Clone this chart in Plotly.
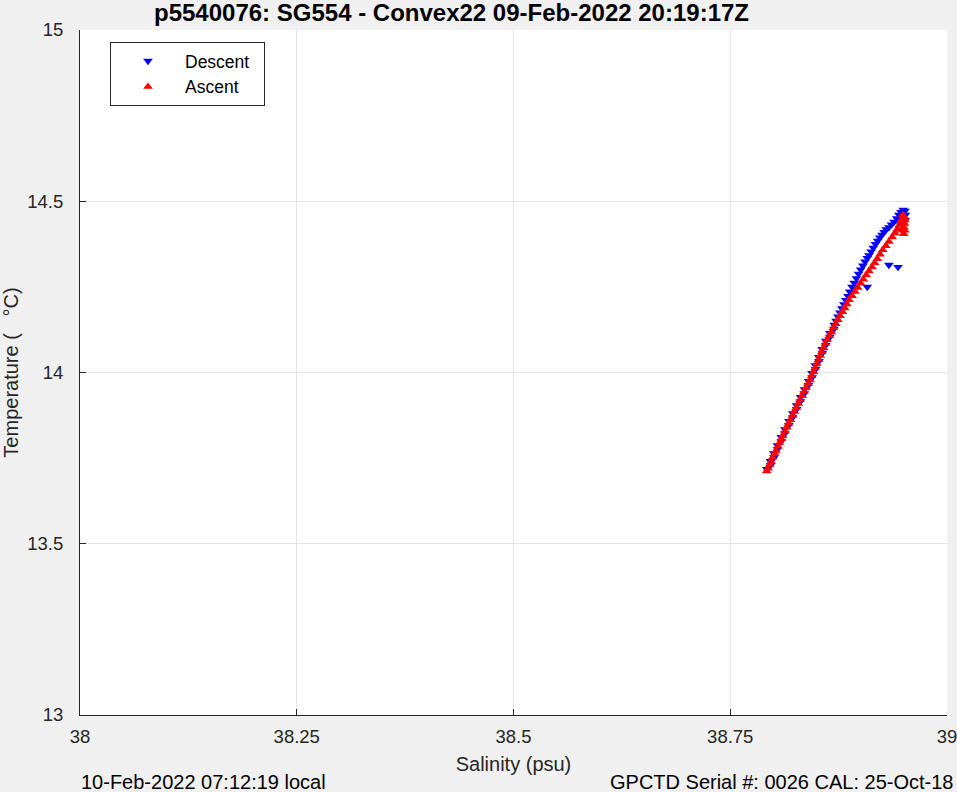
import plotly.graph_objects as go

# ---- data ----
desc_sal = [38.7921, 38.7964, 38.7964, 38.8005, 38.8003, 38.8046, 38.8045, 38.8089, 38.8089, 38.8131,
            38.8131, 38.8176, 38.8177, 38.8220, 38.8221, 38.8266, 38.8265, 38.8310, 38.8311, 38.8354,
            38.8356, 38.8402, 38.8404, 38.8445, 38.8443, 38.8485, 38.8481, 38.8523, 38.8521, 38.8563,
            38.8560, 38.8602, 38.8603, 38.8649, 38.8649, 38.8696, 38.8700, 38.8721, 38.8743, 38.8765,
            38.8788, 38.8811, 38.8834, 38.8858, 38.8878, 38.8905, 38.8930, 38.8955, 38.8980, 38.9005,
            38.9030, 38.9055, 38.9080, 38.9100, 38.9125, 38.9150, 38.9175, 38.9200, 38.9225, 38.9250,
            38.9275, 38.9300, 38.9330, 38.9360, 38.9390, 38.9420, 38.9445, 38.9470, 38.9495, 38.9515,
            38.9520, 38.9330, 38.9435, 38.9080, 38.9518]
desc_temp = [13.718, 13.729, 13.741, 13.752, 13.764, 13.776, 13.787, 13.799, 13.811, 13.822,
             13.834, 13.846, 13.858, 13.869, 13.881, 13.893, 13.904, 13.916, 13.928, 13.939,
             13.951, 13.963, 13.975, 13.986, 13.998, 14.010, 14.021, 14.033, 14.045, 14.057,
             14.068, 14.080, 14.092, 14.104, 14.115, 14.127, 14.139, 14.151, 14.163, 14.175,
             14.187, 14.199, 14.211, 14.223, 14.236, 14.250, 14.262, 14.275, 14.288, 14.300,
             14.312, 14.324, 14.334, 14.342, 14.353, 14.364, 14.375, 14.384, 14.394, 14.402,
             14.410, 14.418, 14.424, 14.432, 14.440, 14.450, 14.460, 14.468, 14.475, 14.472,
             14.460, 14.314, 14.308, 14.250, 14.445]

asc_sal = [38.7920, 38.7935, 38.7955, 38.7972, 38.7990, 38.8012, 38.8025, 38.8050, 38.8070, 38.8090,
           38.8105, 38.8130, 38.8152, 38.8172, 38.8195, 38.8218, 38.8240, 38.8262, 38.8285, 38.8305,
           38.8330, 38.8352, 38.8374, 38.8398, 38.8420, 38.8440, 38.8460, 38.8478, 38.8498, 38.8518,
           38.8538, 38.8557, 38.8577, 38.8597, 38.8616, 38.8642, 38.8665, 38.8690, 38.8718, 38.8742,
           38.8768, 38.8795, 38.8820, 38.8845, 38.8870, 38.8905, 38.8938, 38.8970, 38.9003, 38.9035,
           38.9068, 38.9100, 38.9135, 38.9165, 38.9195, 38.9228, 38.9260, 38.9295, 38.9330, 38.9368,
           38.9400, 38.9425, 38.9450, 38.9468, 38.9480, 38.9500, 38.9510, 38.9515, 38.9505, 38.9490,
           38.9515, 38.9500, 38.9485]
asc_temp = [13.712, 13.720, 13.731, 13.740, 13.752, 13.763, 13.771, 13.784, 13.795, 13.806,
            13.815, 13.828, 13.840, 13.851, 13.862, 13.874, 13.886, 13.897, 13.909, 13.920,
            13.932, 13.944, 13.955, 13.967, 13.978, 13.990, 14.002, 14.013, 14.025, 14.037,
            14.049, 14.060, 14.072, 14.084, 14.095, 14.107, 14.118, 14.130, 14.142, 14.154,
            14.165, 14.177, 14.188, 14.200, 14.212, 14.224, 14.236, 14.248, 14.260, 14.272,
            14.284, 14.296, 14.308, 14.320, 14.332, 14.345, 14.358, 14.370, 14.382, 14.395,
            14.407, 14.418, 14.430, 14.440, 14.448, 14.425, 14.435, 14.445, 14.455, 14.460,
            14.415, 14.405, 14.415]

x_ticks = [38, 38.25, 38.5, 38.75, 39]
x_tick_labels = ["38", "38.25", "38.5", "38.75", "39"]
y_ticks = [13, 13.5, 14, 14.5, 15]
y_tick_labels = ["13", "13.5", "14", "14.5", "15"]

title_text = "p5540076: SG554 - Convex22 09-Feb-2022 20:19:17Z"
left_note = "10-Feb-2022 07:12:19 local"
right_note = "GPCTD Serial #: 0026 CAL: 25-Oct-18"

FONT = "Liberation Sans, Arial, Helvetica, sans-serif"
AXC = "#262626"
NB = "\u00a0\u00a0"

fig = go.Figure()
fig.add_trace(go.Scatter(x=desc_sal, y=desc_temp, mode="markers", name="Descent" + NB,
                         marker=dict(symbol="triangle-down", size=8.5, color="#0000ff", line=dict(width=0))))
fig.add_trace(go.Scatter(x=asc_sal, y=asc_temp, mode="markers", name="Ascent" + NB,
                         marker=dict(symbol="triangle-up", size=8.5, color="#ff0000", line=dict(width=0))))

fig.update_layout(
    width=957, height=792,
    margin=dict(l=80, r=10, t=30, b=77, autoexpand=False),
    paper_bgcolor="#f0f0f0", plot_bgcolor="#ffffff",
    font=dict(family=FONT, size=18, color=AXC),
    showlegend=True,
    legend=dict(x=(110 - 80) / 867, y=(715 - 42) / 685, xanchor="left", yanchor="top",
                bgcolor="#ffffff", bordercolor="#262626", borderwidth=1,
                font=dict(family=FONT, size=17.5, color="#000000"),
                itemwidth=64, tracegroupgap=0),
    xaxis=dict(range=[38, 39], tickmode="array", tickvals=x_ticks, ticktext=x_tick_labels,
               showgrid=True, gridcolor="#e4e4e4", gridwidth=1, zeroline=False,
               showline=True, linecolor=AXC, linewidth=1, mirror=False, automargin=False,
               ticks="inside", ticklen=6, tickcolor=AXC, ticklabelstandoff=5,
               ticklabeloverflow="allow",
               tickfont=dict(family=FONT, size=18.5, color=AXC),
               title=dict(text="Salinity (psu)", font=dict(family=FONT, size=20, color=AXC), standoff=10)),
    yaxis=dict(range=[13, 15], tickmode="array", tickvals=y_ticks, ticktext=y_tick_labels,
               showgrid=True, gridcolor="#e4e4e4", gridwidth=1, zeroline=False,
               showline=True, linecolor=AXC, linewidth=1, mirror=False, automargin=False,
               ticks="inside", ticklen=6, tickcolor=AXC, ticklabelstandoff=12,
               ticklabeloverflow="allow",
               tickfont=dict(family=FONT, size=18.5, color=AXC),
               title=dict(text="Temperature (   °C)", font=dict(family=FONT, size=20, color=AXC), standoff=13)),
    annotations=[
        dict(text="<b>" + title_text + "</b>", xref="paper", yref="paper",
             x=(451.5 - 80) / 867, y=1.0, yshift=18, xanchor="center", yanchor="middle",
             showarrow=False, font=dict(family=FONT, size=24, color="#000000")),
        dict(text=left_note, xref="paper", yref="paper", x=(79 - 80) / 867, y=0, yshift=-67,
             xanchor="left", yanchor="middle", showarrow=False,
             font=dict(family=FONT, size=20, color="#000000")),
        dict(text=right_note, xref="paper", yref="paper", x=(955 - 80) / 867, y=0, yshift=-67,
             xanchor="right", yanchor="middle", showarrow=False,
             font=dict(family=FONT, size=20, color="#000000")),
    ],
)

fig.write_html("out.html", config={"displayModeBar": False},
               post_script="document.body.style.margin='0';document.body.style.padding='0';"
                           "document.documentElement.style.overflow='hidden';")
